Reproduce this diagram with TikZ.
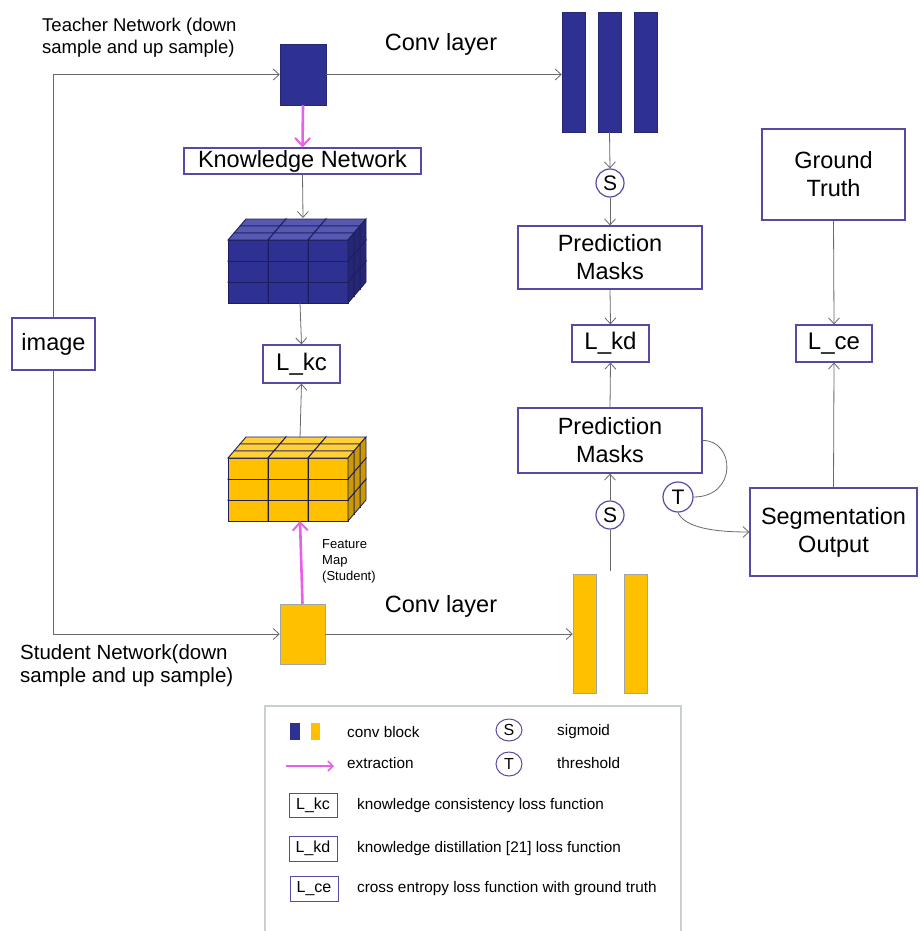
\documentclass[tikz,border=0pt]{standalone}
\usepackage{fontspec}
\setmainfont{Liberation Sans}
\usetikzlibrary{arrows.meta,positioning,shapes.geometric}
\definecolor{navy}{RGB}{46,49,146}
\definecolor{navytop}{RGB}{86,88,178}
\definecolor{navyside}{RGB}{36,38,118}
\definecolor{navyedge}{RGB}{30,30,95}
\definecolor{gold}{RGB}{255,192,0}
\definecolor{goldtop}{RGB}{255,208,55}
\definecolor{goldside}{RGB}{222,162,0}
\definecolor{boxline}{RGB}{85,75,165}
\definecolor{wire}{RGB}{105,105,105}
\definecolor{pinkish}{RGB}{232,95,232}
\definecolor{frame}{RGB}{200,208,208}
\tikzset{
  pin/.style={draw=wire, line width=0.8pt, -{Straight Barb[length=6pt,width=11pt]}},
  pull/.style={draw=pinkish, line width=2.6pt, -{Straight Barb[length=8pt,width=15pt,line width=2pt]}},
  box/.style={draw=boxline, line width=1.2pt, fill=white, align=center, inner sep=0pt},
  bar/.style={draw=#1!80!black, fill=#1, line width=0.5pt, inner sep=0pt},
  op/.style={draw=boxline, line width=1.2pt, circle, minimum size=28pt, inner sep=0pt, font=\fontsize{21}{24}\selectfont},
  big/.style={font=\fontsize{23.5}{28}\selectfont},
}
% 3x3x3 stack of small cubes, front face top-left at (#1,#2)
\newcommand{\cubestack}[5]{
  \foreach \d in {2,1,0}{
    \foreach \r in {0,1,2}{
      \foreach \c in {0,1,2}{
        \pgfmathsetmacro{\cx}{#1+40*\c+6*\d}
        \pgfmathsetmacro{\cy}{#2+21*(2-\r)-7*\d}
        \draw[draw=#5, fill=#3, line width=0.9pt] (\cx,\cy) rectangle ++(40,21);
        \draw[draw=#5, fill=#4, line width=0.9pt] (\cx,\cy) -- ++(6,-7) -- ++(40,0) -- ++(-6,7) -- cycle;
        \draw[draw=#5, fill=#3!80!black, line width=0.9pt] (\cx+40,\cy) -- ++(6,-7) -- ++(0,21) -- ++(-6,7) -- cycle;
      }
    }
  }
}

\begin{document}
\begin{tikzpicture}[x=1pt, y=-1pt, font=\fontsize{23.5}{28}\selectfont]
  \useasboundingbox[fill=white] (0,0) rectangle (919,931);

  % left side: input and the two networks
  \node[box, big, minimum width=83pt, minimum height=52pt] (image) at (53.5,344) {image};
  \node[bar=navy, minimum width=46pt, minimum height=61pt] (teach) at (303,74.5) {};
  \node[bar=gold, draw=frame!80!black, minimum width=45pt, minimum height=60pt] (stud) at (302.5,634) {};
  \node[anchor=west, align=left, inner sep=0pt, font=\fontsize{18.5}{21.5}\selectfont] (teachlbl) at (42,37.5) {Teacher Network (down\\sample and up sample)};
  \node[anchor=west, align=left, inner sep=0pt, font=\fontsize{20.5}{23}\selectfont] (studlbl) at (20,665.5) {Student Network(down\\sample and up sample)};

  % knowledge branch
  \node[box, big, minimum width=237pt, minimum height=26pt] (kn) at (302.5,161) {Knowledge Network};
  \cubestack{228}{240}{navy}{navytop}{navyedge}
  \cubestack{228}{458}{gold}{goldtop}{navyedge}
  \coordinate (bluetop) at (303,218);
  \coordinate (bluebot) at (300,303);
  \coordinate (goldtop) at (300,438);
  \coordinate (goldbot) at (300,521);
  \node[box, minimum width=77pt, minimum height=38pt, font=\fontsize{24}{28}\selectfont] (lkc) at (301.5,364) {L\_kc};
  \node[anchor=west, align=left, inner sep=0pt, font=\fontsize{13}{16}\selectfont] (fmap) at (322,561) {Feature\\Map\\(Student)};

  % conv layers
  \foreach \i/\x in {1/573.5,2/609.5,3/645.5}{
    \node[bar=navy, minimum width=23pt, minimum height=120pt] (tbar\i) at (\x,72) {};
  }
  \foreach \i/\x in {1/584.5,2/635.5}{
    \node[bar=gold, draw=frame!80!black, minimum width=23pt, minimum height=119pt] (sbar\i) at (\x,633.5) {};
  }
  \node (convT) at (441,44) {Conv layer};
  \node (convS) at (441,606) {Conv layer};

  % prediction column
  \node[op] (sigT) at (610,183) {S};
  \node[box, big, minimum width=184pt, minimum height=63pt] (predT) at (610,257.5) {Prediction\\Masks};
  \node[box, minimum width=77pt, minimum height=37pt, font=\fontsize{24}{28}\selectfont] (lkd) at (610.5,343.5) {L\_kd};
  \node[box, big, minimum width=184pt, minimum height=65pt] (predS) at (610,440.5) {Prediction\\Masks};
  \node[op] (sigS) at (610,515) {S};
  \coordinate (sout) at (610,571);
  \node[op, minimum size=30pt] (thr) at (678,497) {T};

  % ground truth column
  \node[box, big, minimum width=143pt, minimum height=91pt] (gt) at (833.5,174.5) {Ground\\Truth};
  \node[box, minimum width=76pt, minimum height=37pt, font=\fontsize{24}{28}\selectfont] (lce) at (834,343.5) {L\_ce};
  \node[box, big, minimum width=167pt, minimum height=88pt] (seg) at (833.5,532) {Segmentation\\Output};

  % connectors
  \draw[pin] (image.north) |- (teach.west);
  \draw[pin] (image.south) |- (stud.west);
  \draw[pin] (teach.east) -- (teach.east -| tbar1.west);
  \draw[pin] (stud.east) -- (stud.east -| sbar1.west);
  \draw[pull] (teach.south) -- (kn.north);
  \draw[pin] (kn.south) -- (bluetop);
  \draw[pin] (bluebot) -- (lkc.north);
  \draw[pin] (goldtop) -- (lkc.south);
  \draw[pull] (stud.north) -- (goldbot);
  \draw[pin] (tbar2.south) -- (sigT.north);
  \draw[pin] (sigT.south) -- (predT.north);
  \draw[pin] (predT.south) -- (lkd.north);
  \draw[pin] (predS.north) -- (lkd.south);
  \draw[draw=wire, line width=0.8pt] (sout) -- (sigS.south);
  \draw[pin] (sigS.north) -- (predS.south);
  \draw[draw=wire, line width=0.8pt] (predS.east) .. controls (735,440) and (738,497) .. (thr.east);
  \draw[pin] (thr.south) .. controls (685,528) and (715,532) .. (seg.west);
  \draw[pin] (gt.south) -- (lce.north);
  \draw[pin] (seg.north) -- (lce.south);

  % legend
  \draw[draw=frame, line width=2pt] (265,706) rectangle (681,940);
  \begin{scope}[font=\fontsize{15.3}{18}\selectfont]
    \fill[navy] (290,723) rectangle (300,740);
    \fill[gold] (311,723) rectangle (320,740);
    \node[anchor=west, inner sep=0pt] (lgconv) at (347,732) {conv block};
    \draw[pinkish, line width=1.6pt, -{Straight Barb[length=5pt,width=10pt]}] (286,766) -- (334,766);
    \node[anchor=west, inner sep=0pt] (lgext) at (347,763) {extraction};
    \node[draw=boxline, line width=1pt, ellipse, minimum width=26pt, minimum height=22pt, inner sep=0pt, font=\fontsize{16}{18}\selectfont] (lgs) at (509,730) {S};
    \node[anchor=west, inner sep=0pt] (lgsig) at (557,732) {sigmoid};
    \node[draw=boxline, line width=1pt, ellipse, minimum width=26pt, minimum height=24pt, inner sep=0pt, font=\fontsize{16}{18}\selectfont] (lgt) at (509,764) {T};
    \node[anchor=west, inner sep=0pt] (lgthr) at (557,763) {threshold};
    \node[box, line width=1pt, minimum width=48pt, minimum height=24pt, font=\fontsize{16}{18}\selectfont] (lgkc) at (313,805) {L\_kc};
    \node[anchor=west, inner sep=0pt] (lgkctxt) at (357,806) {knowledge consistency loss function};
    \node[box, line width=1pt, minimum width=48pt, minimum height=25pt, font=\fontsize{16}{18}\selectfont] (lgkd) at (313,848.5) {L\_kd};
    \node[anchor=west, inner sep=0pt] (lgkdtxt) at (357,849) {knowledge distillation [21] loss function};
    \node[box, line width=1pt, minimum width=48pt, minimum height=25pt, font=\fontsize{16}{18}\selectfont] (lgce) at (314,888.5) {L\_ce};
    \node[anchor=west, inner sep=0pt] (lgcetxt) at (357,889) {cross entropy loss function with ground truth};
  \end{scope}
\end{tikzpicture}
\end{document}
